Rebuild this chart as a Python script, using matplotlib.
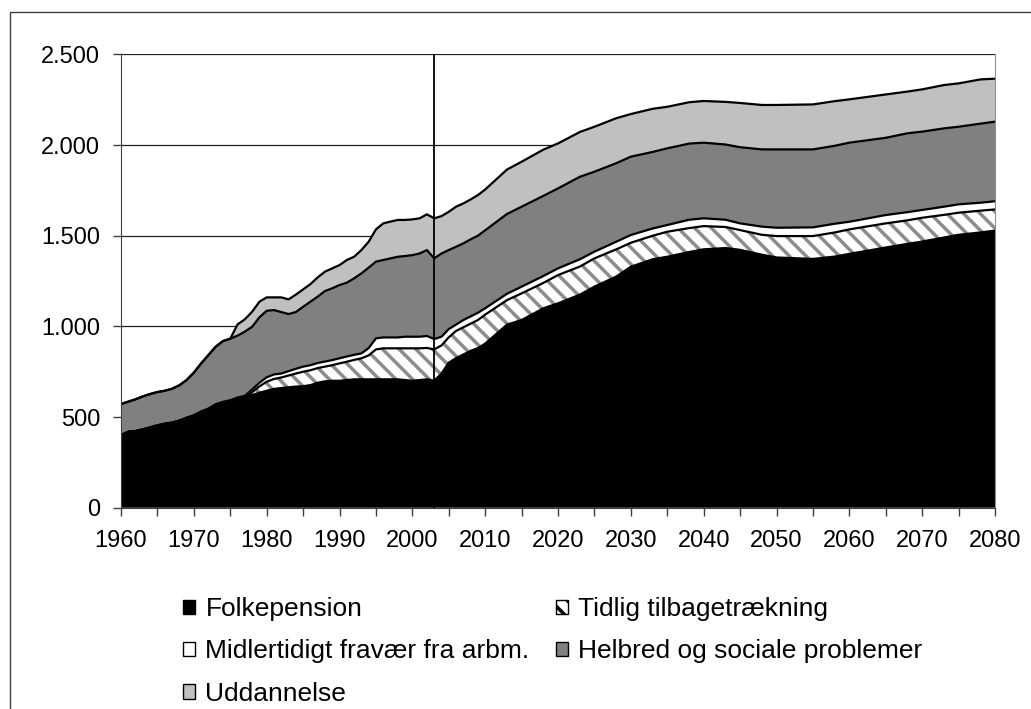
# Stacked area chart: Danish transfer income recipients by group, 1960-2080

import numpy as np
import matplotlib.pyplot as plt
from matplotlib.patches import Patch, Rectangle
from matplotlib.ticker import FuncFormatter, MultipleLocator

plt.rcParams['font.family'] = ['Liberation Sans', 'DejaVu Sans']
plt.rcParams['hatch.linewidth'] = 2.5
plt.rcParams['hatch.color'] = '#8c8c8c'

# Data (thousands of persons)

years = list(range(1960, 2011)) + [2013, 2015, 2018, 2020, 2023, 2025, 2028, 2030, 2033,
                                   2035, 2038, 2040, 2043, 2045, 2048, 2050, 2055, 2058,
                                   2060, 2065, 2068, 2070, 2073, 2075, 2078, 2080]

folkepension = [401, 419, 423, 432, 443, 454, 463, 469, 480, 496,
                509, 530, 542, 563, 576, 587, 598, 607, 622, 634,
                645, 655, 660, 664, 668, 670, 676, 689, 697, 700,
                700, 704, 708, 708, 708, 708, 708, 708, 708, 704,
                700, 704, 708, 700, 740, 800, 825, 845, 865, 880,
                905,
                1010, 1035, 1100, 1127, 1175, 1219, 1275, 1329, 1370, 1384, 1410, 1425, 1432,
                1422, 1395, 1380, 1372, 1385, 1400, 1435, 1455, 1468, 1490, 1505, 1518, 1528]

tidlig = [0, 0, 0, 0, 0, 0, 0, 0, 0, 0,
          0, 0, 0, 0, 0, 0, 0, 0, 15, 35,
          50, 55, 58, 65, 72, 80, 82, 81, 81, 86,
          96, 101, 107, 116, 132, 165, 171, 171, 171, 175,
          179, 175, 173, 173, 155, 140, 150, 150, 150, 155,
          160,
          135, 147, 140, 156, 155, 156, 150, 132, 130, 138, 132, 128, 116,
          109, 110, 118, 126, 133, 135, 133, 130, 131, 125, 122, 120, 117]

midlertidigt = [0, 0, 0, 0, 0, 0, 0, 0, 0, 0,
                0, 0, 5, 8, 8, 6, 10, 10, 15, 20,
                24, 25, 22, 24, 26, 28, 28, 28, 28, 28,
                28, 29, 28, 27, 40, 61, 60, 60, 60, 64,
                64, 64, 66, 57, 48, 45, 35, 40, 40, 40,
                35,
                35, 37, 38, 37, 40, 37, 42, 43, 40, 37, 46, 43, 40,
                37, 45, 46, 48, 48, 42, 46, 45, 43, 45, 46, 44, 45]

helbred = [171, 166, 175, 182, 184, 184, 182, 187, 195, 208,
           236, 266, 295, 317, 335, 339, 341, 354, 346, 361,
           367, 355, 339, 315, 313, 330, 350, 366, 389, 396,
           404, 407, 422, 441, 444, 423, 427, 436, 445, 445,
           450, 459, 474, 445, 459, 436, 429, 423, 425, 425,
           430,
           440, 441, 442, 441, 455, 441, 433, 432, 422, 423, 420, 417, 415,
           420, 426, 432, 430, 430, 436, 426, 435, 432, 432, 428, 436, 439]

uddannelse = [0, 0, 0, 0, 0, 0, 0, 0, 0, 0,
              0, 0, 0, 0, 0, 0, 62, 68, 83, 86,
              74, 70, 81, 81, 96, 96, 97, 106, 107, 110,
              110, 125, 119, 129, 143, 178, 202, 203, 203, 199,
              197, 194, 197, 221, 206, 211, 221, 220, 220, 224,
              225,
              245, 248, 255, 248, 247, 248, 248, 235, 238, 229, 228, 230, 235,
              244, 245, 245, 248, 246, 239, 239, 230, 233, 239, 239, 244, 237]

labels = ['Folkepension', 'Tidlig tilbagetrækning', 'Midlertidigt fravær fra arbm.',
          'Helbred og sociale problemer', 'Uddannelse']
colors = ['black', 'white', 'white', '#808080', '#c0c0c0']
hatches = [None, '\\\\', None, None, None]

x = np.array(years)
layers = np.array([folkepension, tidlig, midlertidigt, helbred, uddannelse])
tops = np.cumsum(layers, axis=0)
bottoms = tops - layers

fig = plt.figure(figsize=(10.31, 7.09), dpi=100)
ax = fig.add_axes([0.1174, 0.2839, 0.8477, 0.6394])

# Areas, then black outlines on each layer top
for i in range(len(layers)):
    if hatches[i]:
        ax.fill_between(x, bottoms[i], tops[i], facecolor=colors[i], edgecolor='#8c8c8c',
                        hatch=hatches[i], linewidth=0)
    else:
        ax.fill_between(x, bottoms[i], tops[i], facecolor=colors[i], linewidth=0)
for i in range(len(layers)):
    ax.plot(x, tops[i], color='black', lw=1.6, solid_joinstyle='round')

# Vertical line marking the last historical year
ax.axvline(2003, color='black', lw=1.3)

ax.set_xlim(1960, 2080)
ax.set_ylim(0, 2500)
ax.set_axisbelow(True)
ax.yaxis.grid(True, color='#202020', lw=0.9)
ax.set_yticks([0, 500, 1000, 1500, 2000, 2500])
ax.yaxis.set_major_formatter(FuncFormatter(lambda v, p: f'{int(v):,}'.replace(',', '.')))
ax.set_xticks(range(1960, 2081, 10))
ax.xaxis.set_minor_locator(MultipleLocator(5))

ax.tick_params(axis='both', which='both', direction='out', length=6, width=1,
               color='#404040', labelsize=17)
ax.tick_params(axis='y', pad=9)
ax.tick_params(axis='x', pad=10)

ax.spines['top'].set_visible(False)
ax.spines['left'].set_color('#404040')
ax.spines['bottom'].set_color('#404040')
ax.spines['right'].set_color('#909090')

# Legend below, filled row by row
handles = []
for i in range(len(labels)):
    handles.append(Patch(facecolor=colors[i], edgecolor='black', hatch=hatches[i],
                         linewidth=1, label=labels[i]))
order = [0, 2, 4, 1, 3]
fig.legend([handles[i] for i in order], [labels[i] for i in order],
           loc='upper left', bbox_to_anchor=(183 / 1031, 1 - 597 / 709), ncol=2,
           frameon=False, fontsize=19, borderpad=0, borderaxespad=0,
           handlelength=0.45, handleheight=0.45, handletextpad=0.4,
           columnspacing=1.0, labelspacing=0.7)

# Outer chart border
fig.patches.append(Rectangle((10 / 1031, -0.1), 1.5, (709 - 12) / 709 + 0.1,
                             transform=fig.transFigure, fill=False,
                             edgecolor='#404040', lw=1))

fig.savefig('out.png', dpi=100)
